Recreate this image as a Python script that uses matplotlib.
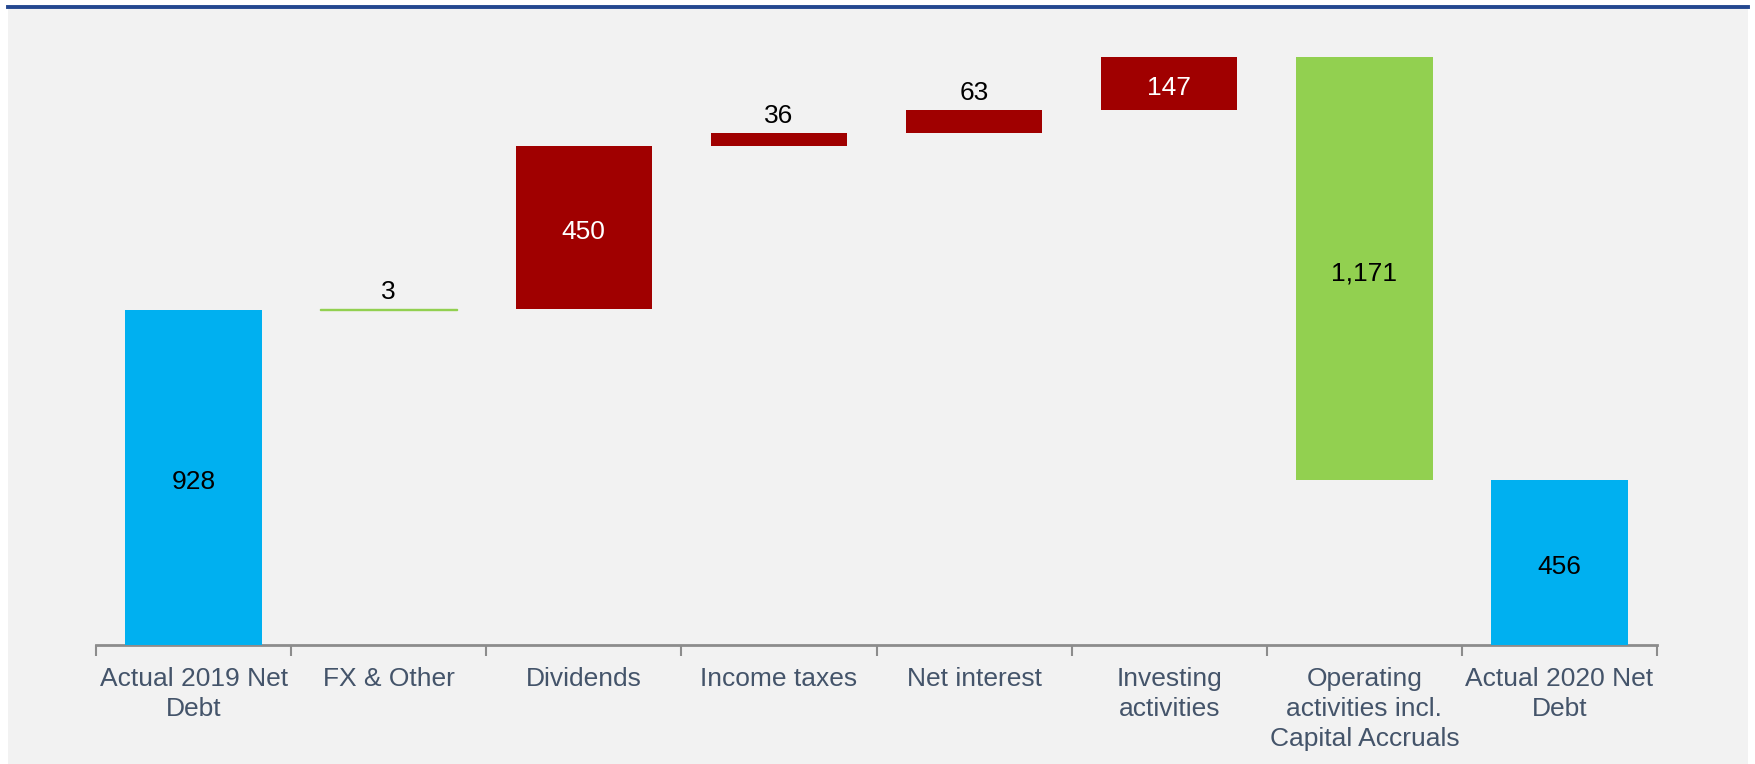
import matplotlib
matplotlib.use("Agg")
import matplotlib.pyplot as plt
from matplotlib.patches import Rectangle
from matplotlib.lines import Line2D

categories = ["Actual 2019 Net\nDebt", "FX & Other", "Dividends", "Income taxes",
              "Net interest", "Investing\nactivities",
              "Operating\nactivities incl.\nCapital Accruals", "Actual 2020 Net\nDebt"]
values = [928, 3, 450, 36, 63, 147, -1171, 456]
labels = ["928", "3", "450", "36", "63", "147", "1,171", "456"]
kinds = ["total", "delta", "delta", "delta", "delta", "delta", "delta", "total"]
colors = ["#00B0F0", "#92D050", "#A00000", "#A00000", "#A00000", "#A00000", "#92D050", "#00B0F0"]
label_colors = ["black", "black", "white", "black", "black", "white", "black", "black"]
label_above = [False, True, False, True, True, False, False, False]

plt.rcParams['font.family'] = ['Liberation Sans', 'DejaVu Sans']

W, H = 1755, 764
fig = plt.figure(figsize=(W/100, H/100), dpi=100, facecolor="white")
fig.add_artist(Rectangle((8/W, 0), (1748-8)/W, (H-8)/H, transform=fig.transFigure,
                         facecolor="#F2F2F2", edgecolor="none", zorder=-10))
fig.add_artist(Line2D([8/W, 1748/W], [(H-7)/H, (H-7)/H], transform=fig.transFigure,
                      color="#24478F", linewidth=2.8, zorder=-5))

left, right = 96, 1657
base_y, top_y = 645, 20
ax = fig.add_axes([left/W, (H-base_y)/H, (right-left)/W, (base_y-top_y)/H])
ax.set_facecolor("none")
px_per_unit = 0.3614
ax.set_ylim(0, (base_y-top_y)/px_per_unit)
ax.set_xlim(-0.5, len(categories)-0.5)

running = 0
for i, (v, k) in enumerate(zip(values, kinds)):
    if k == "total":
        bottom, height = 0, v
        running = v
    else:
        if v >= 0:
            bottom, height = running, v
        else:
            bottom, height = running + v, -v
        running += v
    ax.bar(i, height, bottom=bottom, width=0.70, color=colors[i],
           edgecolor=colors[i], linewidth=1 if height < 10 else 0, zorder=3)
    if label_above[i]:
        ax.annotate(labels[i], (i, bottom+height), xytext=(0, 3.5), textcoords="offset points",
                    ha="center", va="bottom", fontsize=19, color=label_colors[i], zorder=4)
    else:
        ax.annotate(labels[i], (i, bottom+height/2), xytext=(0, -3.5), textcoords="offset points",
                    ha="center", va="center", fontsize=19, color=label_colors[i], zorder=4)

for s in ["top", "right", "left"]:
    ax.spines[s].set_visible(False)
ax.spines["bottom"].set_color("#8C8C8C")
ax.spines["bottom"].set_linewidth(2)
ax.set_yticks([])
ax.set_xticks([i - 0.5 for i in range(len(categories)+1)])
ax.set_xticklabels([])
ax.tick_params(axis="x", which="major", length=8, width=1.5, color="#8C8C8C", direction="out")
ax.set_xticks(range(len(categories)), minor=True)
ax.set_xticklabels(categories, minor=True, fontsize=19, color="#44546A", linespacing=1.3)
ax.tick_params(axis="x", which="minor", length=0, pad=16)

fig.savefig("out.png", dpi=100, facecolor="white")
